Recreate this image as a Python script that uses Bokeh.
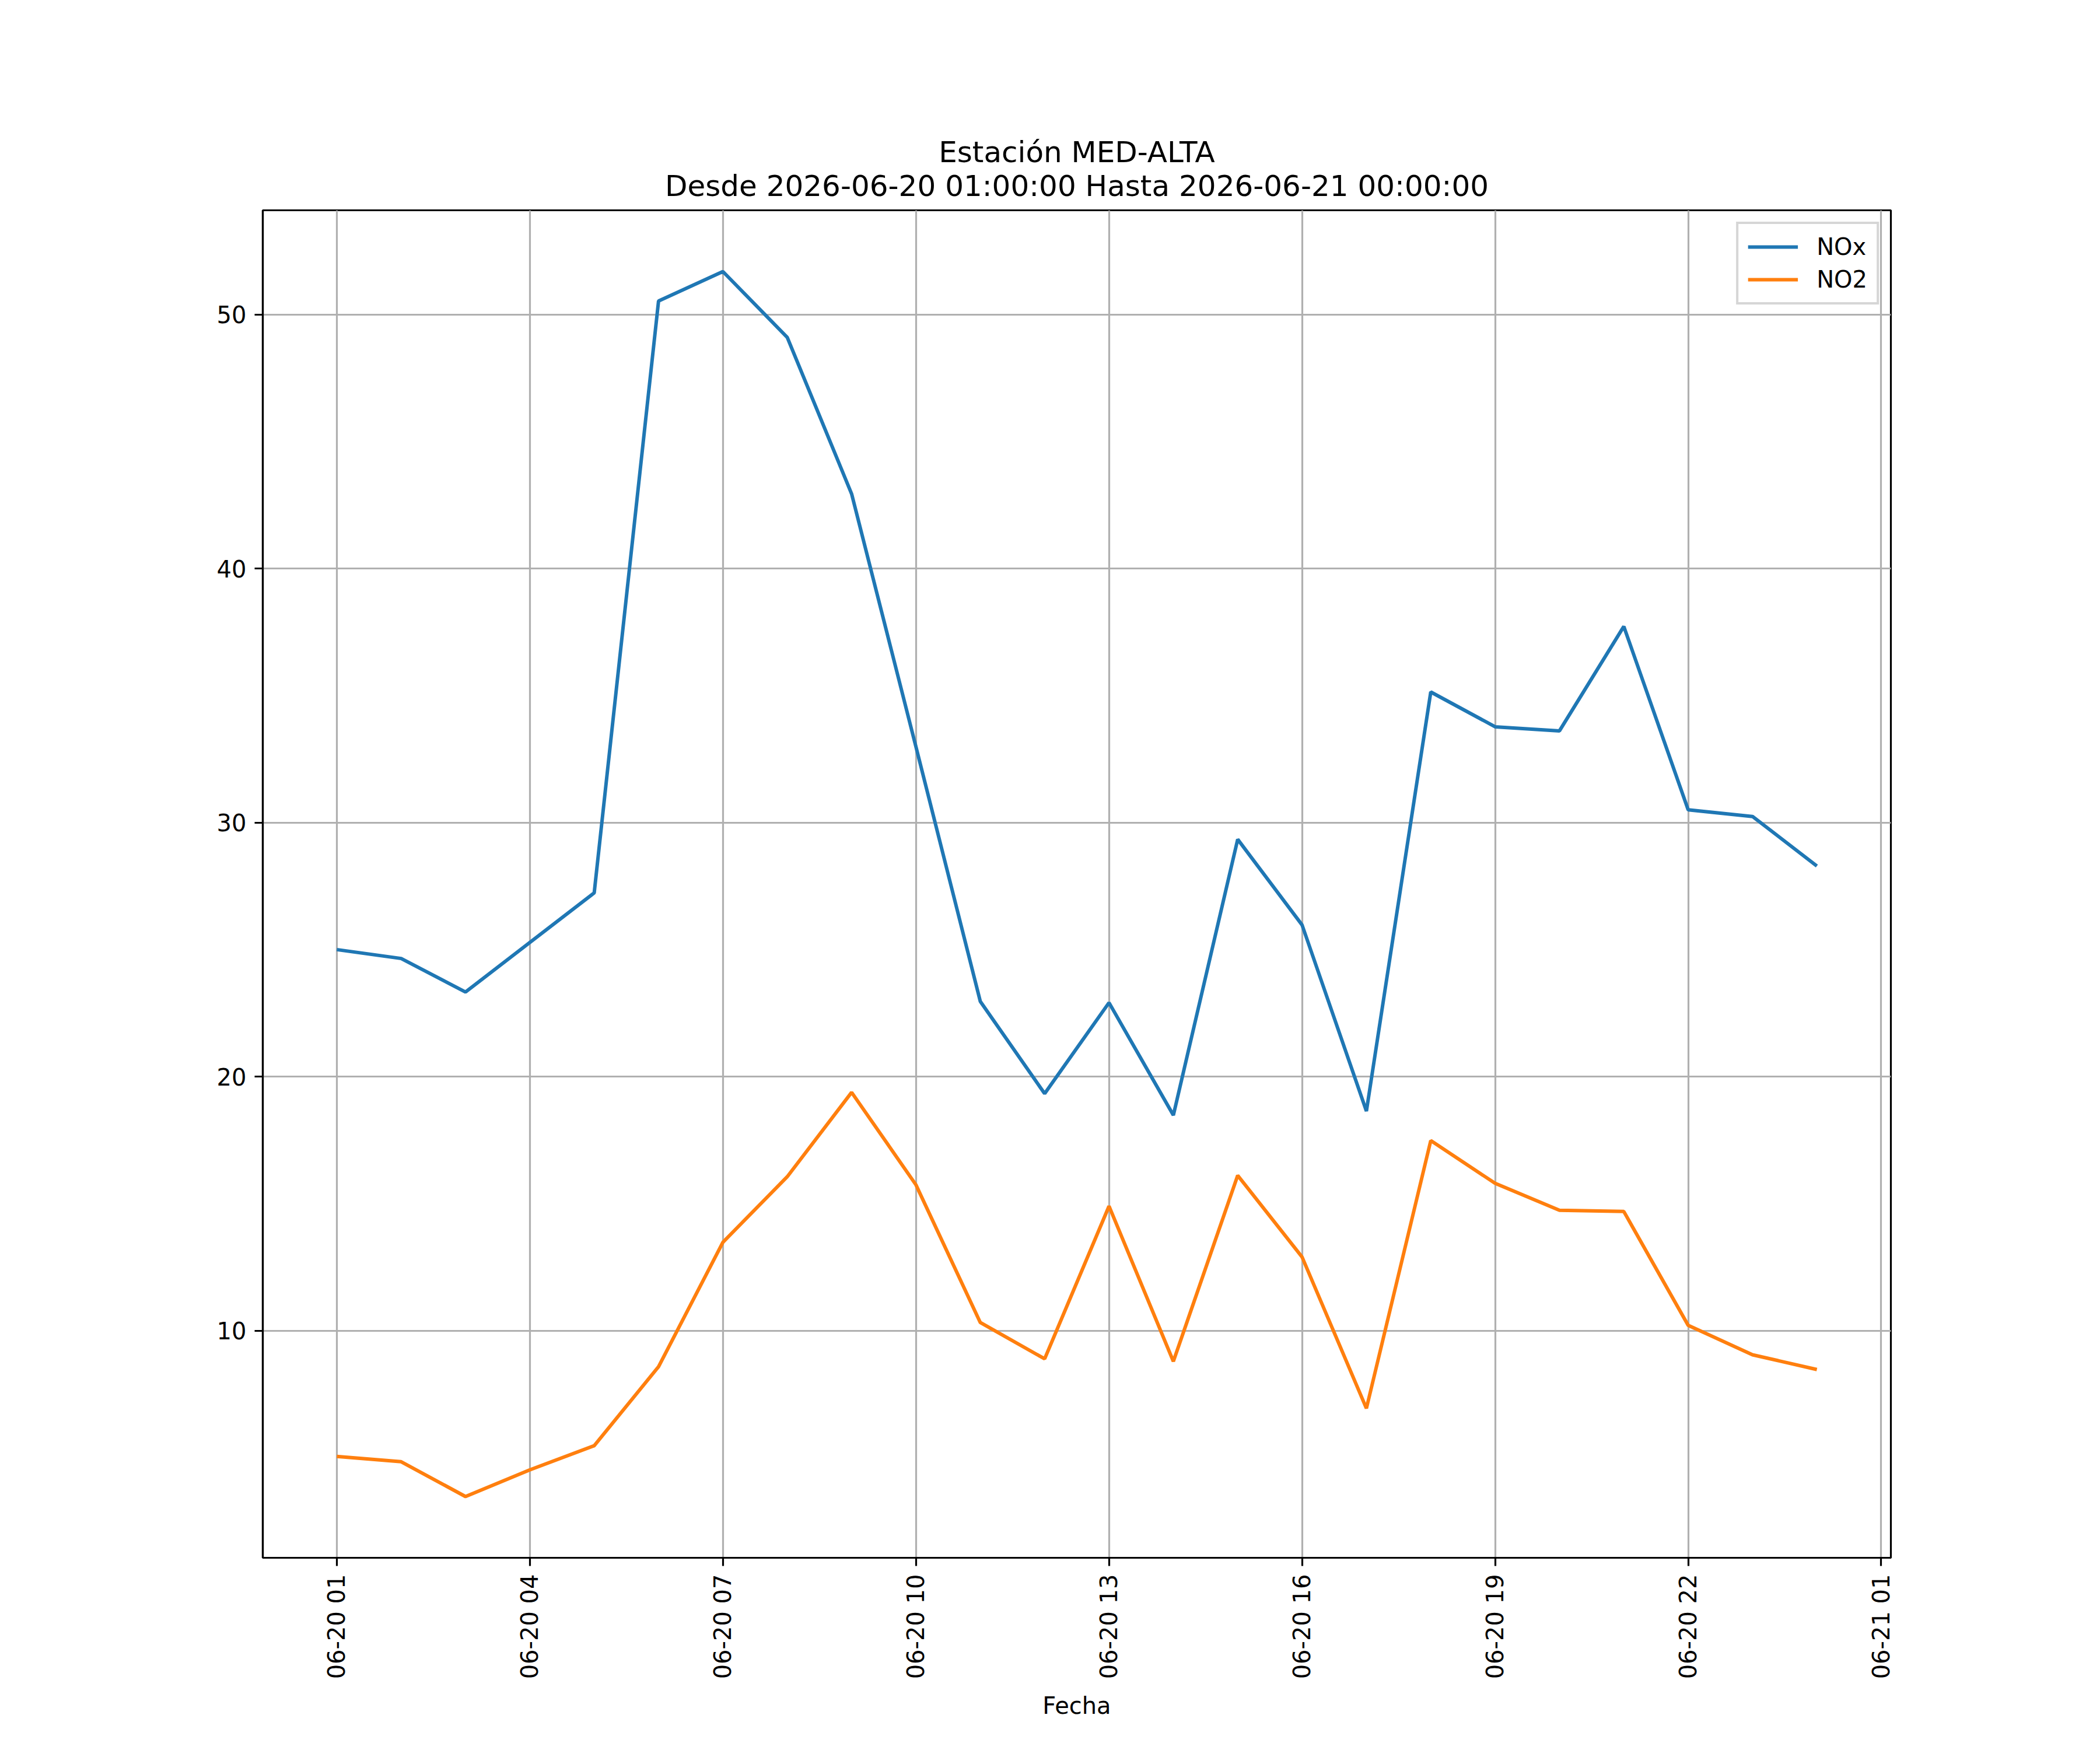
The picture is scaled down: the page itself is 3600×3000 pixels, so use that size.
import math
from datetime import datetime, timedelta

from bokeh.plotting import figure
from bokeh.models import (Range1d, FixedTicker, DatetimeTickFormatter, Title,
                          Legend, LegendItem)
from bokeh.embed import file_html
from bokeh.resources import INLINE

# ---------------- data ----------------
station = "MED-ALTA"
start_label = "2026-06-20 01:00:00"
end_label = "2026-06-21 00:00:00"
hours = list(range(1, 25))  # 01:00 .. 24:00 (= 06-21 00:00)
nox = [25.0, 24.65, 23.33, 25.28, 27.23, 50.53, 51.69, 49.10, 42.94, 32.98,
       22.96, 19.33, 22.91, 18.48, 29.34, 25.97, 18.64, 35.14, 33.77, 33.61,
       37.72, 30.50, 30.24, 28.29]
no2 = [5.05, 4.84, 3.47, 4.52, 5.47, 8.58, 13.48, 16.06, 19.38, 15.74,
       10.32, 8.89, 14.90, 8.79, 16.11, 12.90, 6.94, 17.48, 15.80, 14.74,
       14.69, 10.21, 9.05, 8.47]
series_names = ["NOx", "NO2"]
series_colors = ["#1f77b4", "#ff7f0e"]
tick_hours = [1, 4, 7, 10, 13, 16, 19, 22, 25]
y_ticks = [10, 20, 30, 40, 50]
x_label = "Fecha"

base = datetime(2026, 6, 20)
times = [base + timedelta(hours=h) for h in hours]
tick_times = [base + timedelta(hours=h) for h in tick_hours]
epoch = datetime(1970, 1, 1)
tick_ms = [(t - epoch).total_seconds() * 1000.0 for t in tick_times]

# ranges with matplotlib-like 5% margins
span = times[-1] - times[0]
x0 = times[0] - span * 0.05
x1 = times[-1] + span * 0.05
allv = nox + no2
vmin, vmax = min(allv), max(allv)
pad = (vmax - vmin) * 0.05

FONT = "DejaVu Sans"
W, H = 3584, 2984
FL, FT, FW, FH = 450, 360, 2791, 2310

p = figure(width=W, height=H, x_axis_type="datetime",
           x_range=Range1d(x0, x1), y_range=Range1d(vmin - pad, vmax + pad),
           output_backend="svg", toolbar_location=None, title=None,
           min_border_left=FL, min_border_top=FT,
           min_border_right=W - FL - FW, min_border_bottom=H - FT - FH)
p.background_fill_color = "white"
p.border_fill_color = "white"
p.outline_line_color = "black"
p.outline_line_width = 3.2

# two-line title
p.add_layout(Title(text=f"Estación {station}\nDesde {start_label} Hasta {end_label}",
                   align="center", text_align="center",
                   text_font=FONT, text_font_size="50px", text_font_style="normal",
                   text_line_height=1.0,
                   text_color="black", standoff=25, offset=0), "above")

r1 = p.line(times, nox, line_color=series_colors[0], line_width=6)
r2 = p.line(times, no2, line_color=series_colors[1], line_width=6)

# axes
xa = p.xaxis[0]
xa.ticker = FixedTicker(ticks=tick_ms)
fmt = "%m-%d %H"
xa.formatter = DatetimeTickFormatter(
    microseconds=fmt, milliseconds=fmt, seconds=fmt, minsec=fmt, minutes=fmt,
    hourmin=fmt, hours=fmt, days=fmt, months=fmt, years=fmt,
    strip_leading_zeros=False)
xa.major_label_orientation = math.pi / 2
xa.axis_label = x_label
xa.axis_label_text_font = FONT
xa.axis_label_text_font_size = "40px"
xa.axis_label_text_font_style = "normal"
xa.axis_label_text_color = "black"
xa.axis_label_standoff = 20

ya = p.yaxis[0]
ya.ticker = FixedTicker(ticks=y_ticks)

for ax in (xa, ya):
    ax.axis_line_color = "black"
    ax.axis_line_width = 3.2
    ax.major_tick_line_color = "black"
    ax.major_tick_line_width = 3.2
    ax.major_tick_out = 14
    ax.major_tick_in = 0
    ax.minor_tick_line_color = None
    ax.major_label_text_font = FONT
    ax.major_label_text_font_size = "40px"
    ax.major_label_text_color = "black"
    ax.major_label_standoff = 14

for g in (p.xgrid[0], p.ygrid[0]):
    g.grid_line_color = "#b0b0b0"
    g.grid_line_width = 3.2
p.xgrid[0].ticker = xa.ticker
p.ygrid[0].ticker = ya.ticker

legend = Legend(items=[LegendItem(label=series_names[0], renderers=[r1]),
                       LegendItem(label=series_names[1], renderers=[r2])],
                location="top_right", margin=20, padding=16, spacing=10,
                glyph_width=86, glyph_height=42, label_height=42,
                label_standoff=32, label_text_font=FONT,
                label_text_font_size="40px", label_text_color="black",
                border_line_color="#cccccc", border_line_width=4,
                border_line_alpha=0.8, background_fill_color="white",
                background_fill_alpha=0.8)
p.add_layout(legend)

open("out.html", "w").write(file_html(p, INLINE))
